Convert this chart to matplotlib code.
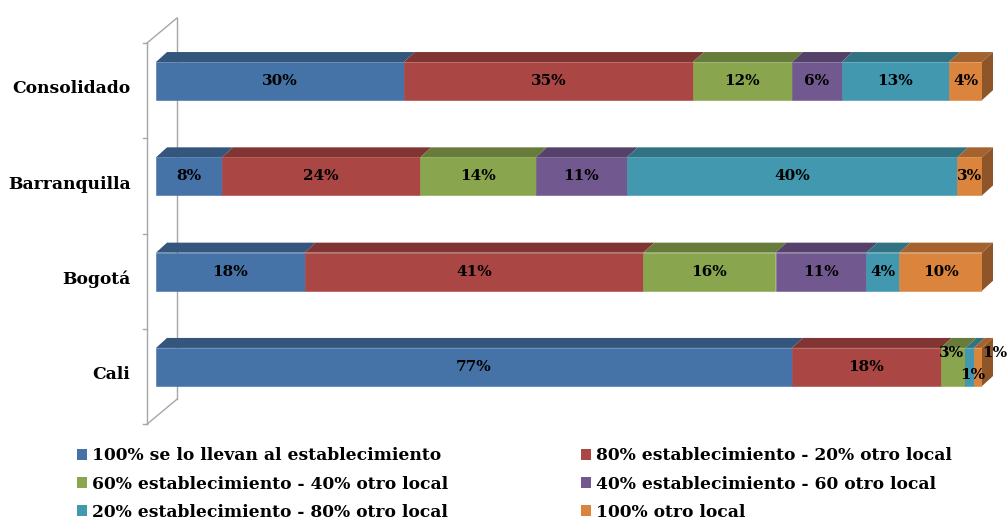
import matplotlib
matplotlib.use("Agg")
import matplotlib.pyplot as plt
import numpy as np
from matplotlib.patches import Polygon, Patch
from matplotlib.colors import to_rgb

# data (bottom to top)
ciudades = ["Cali", "Bogotá", "Barranquilla", "Consolidado"]
series = [
    "100% se lo llevan al establecimiento",
    "80% establecimiento - 20% otro local",
    "60% establecimiento - 40% otro local",
    "40% establecimiento - 60 otro local",
    "20% establecimiento - 80% otro local",
    "100% otro local",
]
s100 = [77, 18, 8, 30]
s80 = [18, 41, 24, 35]
s60 = [3, 16, 14, 12]
s40 = [0, 11, 11, 6]
s20 = [1, 4, 40, 13]
s0 = [1, 10, 3, 4]
valores = [s100, s80, s60, s40, s20, s0]

colores = ["#4572A7", "#AA4643", "#89A54E", "#71588F", "#4198AF", "#DB843D"]

# label nudges for the crowded Cali bar, in points (series, city) -> (dx, dy)
nudges = {(2, 0): (-1, 10), (4, 0): (2, -6), (5, 0): (12, 10)}

FONT = "DejaVu Serif"

def shade(c, f):
    r, g, b = to_rgb(c)
    return (r * f, g * f, b * f)

fig = plt.figure(figsize=(10.08, 5.19), dpi=100)
W, H = 1008, 519
unit = 95.3                     # px per category
ylo, yhi = -0.6, 3.6
bottom_px = (519 - 367) - (0 - ylo) * unit
ax = fig.add_axes([156 / W, bottom_px / H, 826 / W, (yhi - ylo) * unit / H])
ax.set_xlim(0, 100)
ax.set_ylim(ylo, yhi)
ax.axis("off")

h = 0.4
dx = 11 / 8.26                  # depth offset in data units
dy = 10 / unit
y = np.arange(len(ciudades))

# back wall / axis frame
xf, xb = -9 / 8.26, 21 / 8.26
wdy = 25 / unit
edges = np.append(y - 0.5 - 0.1, y[-1] + 0.5 - 0.1)
wall = dict(color="#A6A6A6", lw=1.0, clip_on=False, zorder=0)
ax.plot([xf, xf], [edges[0], edges[-1]], **wall)
ax.plot([xb, xb], [edges[0] + wdy, edges[-1] + wdy], **wall)
ax.plot([xf, xb], [edges[-1], edges[-1] + wdy], **wall)
ax.plot([xf, xb], [edges[0], edges[0] + wdy], **wall)
for e in edges:
    ax.plot([xf - 0.5, xf], [e, e], **wall)

left = np.zeros(len(ciudades))
for k, vals in enumerate(valores):
    vals = np.array(vals, dtype=float)
    ax.barh(y, vals, left=left, height=h, color=colores[k], ec=colores[k],
            lw=0.4, zorder=2)
    for i in range(len(ciudades)):
        if vals[i] <= 0:
            continue
        l, r = left[i], left[i] + vals[i]
        top = y[i] + h / 2
        ax.add_patch(Polygon([(l, top), (r, top), (r + dx, top + dy), (l + dx, top + dy)],
                             closed=True, fc=shade(colores[k], 0.75), ec="none",
                             zorder=1, clip_on=False))
        ox, oy = nudges.get((k, i), (0, 0))
        ax.annotate(f"{int(vals[i])}%", (l + vals[i] / 2, y[i]),
                    xytext=(ox, oy), textcoords="offset points",
                    ha="center", va="center", fontsize=11, fontweight="bold",
                    family=FONT, color="black", zorder=5, annotation_clip=False)
    left += vals

# right side face of each bar
last = colores[-1]
for i in range(len(ciudades)):
    R = left[i]
    b, t = y[i] - h / 2, y[i] + h / 2
    ax.add_patch(Polygon([(R, t), (R + dx, t + dy), (R + dx, b + dy), (R, b)],
                         closed=True, fc=shade(last, 0.65), ec="none",
                         zorder=1, clip_on=False))

for i, c in enumerate(ciudades):
    ax.text(-3.1, y[i] - 0.08, c, ha="right", va="center", fontsize=12.3,
            fontweight="bold", family=FONT)

handles = [Patch(facecolor=colores[k], edgecolor="none") for k in range(6)]
order = [0, 2, 4, 1, 3, 5]
fig.legend([handles[k] for k in order], [series[k] for k in order],
           ncol=2, loc="lower left", bbox_to_anchor=(62 / W, -17 / H),
           frameon=False, prop={"family": FONT, "weight": "bold", "size": 12.3},
           handlelength=0.55, handleheight=0.55, handletextpad=0.3,
           columnspacing=7.8, labelspacing=0.65)

fig.savefig("out.png", dpi=100)
